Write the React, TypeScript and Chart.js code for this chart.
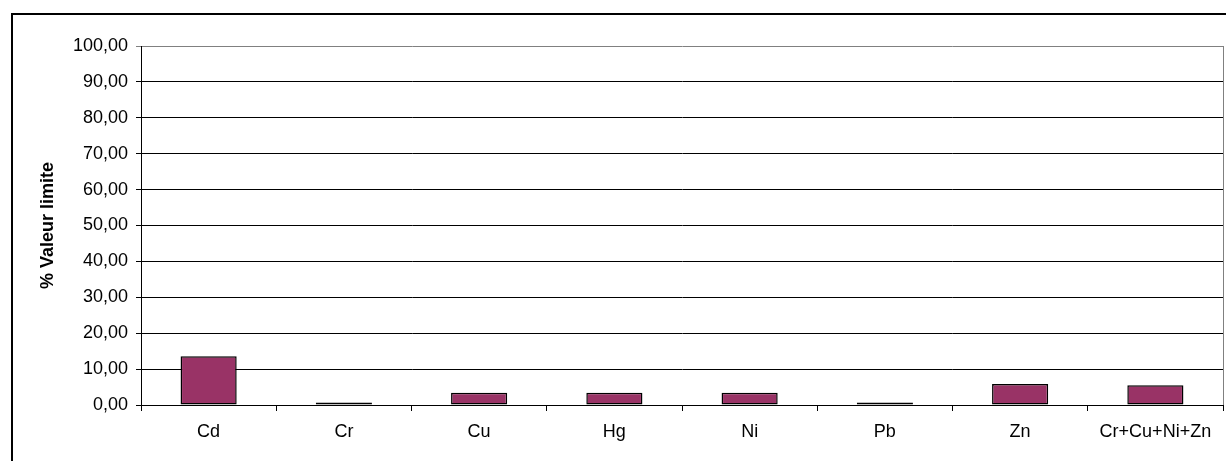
import React, { useEffect, useRef } from "react";
import { Chart, registerables } from "chart.js";

Chart.register(...registerables);

const categories = ["Cd", "Cr", "Cu", "Hg", "Ni", "Pb", "Zn", "Cr+Cu+Ni+Zn"];
const values = [13.6, 0.7, 3.4, 3.4, 3.4, 0.7, 5.85, 5.5];
const yTitle = "% Valeur limite";

const frame = {
  id: "frame",
  afterDraw(chart: any) {
    const { ctx, chartArea } = chart;
    ctx.save();
    ctx.fillStyle = "#000";
    ctx.fillRect(11, 13, 2, chart.height);
    ctx.fillRect(11, 13, chart.width, 2);
    ctx.strokeStyle = "#808080";
    ctx.lineWidth = 1;
    ctx.beginPath();
    ctx.moveTo(chartArea.right + 0.5, chartArea.top);
    ctx.lineTo(chartArea.right + 0.5, chartArea.bottom);
    ctx.stroke();
    ctx.restore();
  },
};

export default function App() {
  const ref = useRef<HTMLCanvasElement>(null);
  useEffect(() => {
    if (!ref.current) return;
    const fmt = (v: number) => v.toFixed(2).replace(".", ",");
    const chart = new Chart(ref.current, {
      type: "bar",
      data: {
        labels: categories,
        datasets: [
          {
            data: values,
            backgroundColor: "#993366",
            borderColor: "#000",
            borderWidth: 1.5,
            borderSkipped: false,
            barPercentage: 1,
            categoryPercentage: 0.415,
          },
        ],
      },
      options: {
        animation: false,
        responsive: false,
        maintainAspectRatio: false,
        layout: { padding: { left: 0, top: 46, right: 3, bottom: 0 } },
        plugins: { legend: { display: false }, tooltip: { enabled: false } },
        scales: {
          x: {
            grid: {
              drawOnChartArea: false,
              offset: true,
              tickLength: 6,
              color: "#000",
            },
            border: { color: "#000", width: 1 },
            ticks: {
              color: "#000",
              font: { family: "Liberation Sans, Arial", size: 18 },
              padding: 10,
              maxRotation: 0,
              autoSkip: false,
            },
            afterFit: (s: any) => {
              s.height = 56;
            },
          },
          y: {
            min: 0,
            max: 100,
            grid: {
              color: (c: any) => (c.tick && c.tick.value === 100 ? "#808080" : "#000"),
              tickLength: 5,
            },
            border: { color: "#000", width: 1 },
            ticks: {
              stepSize: 10,
              color: "#000",
              padding: 8,
              font: { family: "Liberation Sans, Arial", size: 18 },
              callback: (v: any) => fmt(Number(v)),
            },
            title: {
              display: true,
              text: yTitle,
              color: "#000",
              font: { family: "Liberation Sans, Arial", size: 18, weight: "bold" },
              padding: { top: 37, bottom: 0 },
            },
            afterFit: (s: any) => {
              s.width = 141;
            },
          },
        },
      },
      plugins: [frame],
    });
    return () => chart.destroy();
  }, []);
  return (
    <div style={{ position: "fixed", left: 0, top: 0, width: 1226, height: 461, background: "#fff" }}>
      <canvas ref={ref} width={1226} height={461} style={{ display: "block" }} />
    </div>
  );
}
